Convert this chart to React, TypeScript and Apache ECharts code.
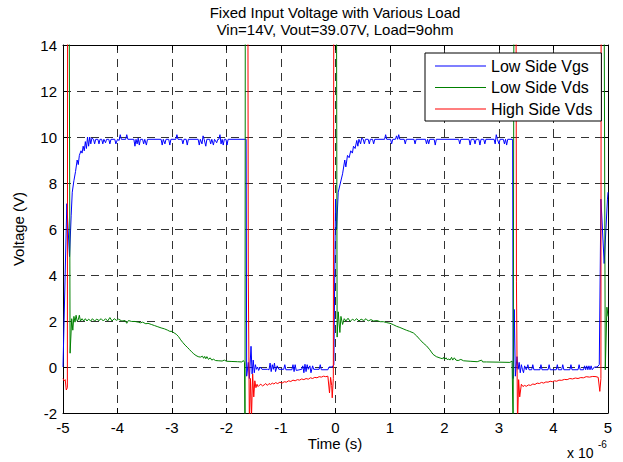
import React, { useEffect, useRef } from "react";
import * as echarts from "echarts";

const FONT = "'Liberation Sans', Arial, Helvetica, sans-serif";

const titleLines = ["Fixed Input Voltage with Various Load", "Vin=14V, Vout=39.07V, Load=9ohm"];
const seriesNames = ["Low Side Vgs", "Low Side Vds", "High Side Vds"];
const seriesColors = ["#0000ff", "#008000", "#ff0000"];
const xTicks = { min: -5, max: 5, interval: 1 };
const yTicks = { min: -2, max: 14, interval: 2 };

// time in units of 1e-6 s, voltage in V
const vgs: number[][] = [
  [-5.0, 0.0], [-4.93, 7.1], [-4.88, 4.8], [-4.85, 6.6], [-4.83, 7.6], [-4.8, 8.1], [-4.77, 8.5],
  [-4.74, 9.0], [-4.72, 8.8], [-4.7, 9.2], [-4.67, 9.4], [-4.65, 9.3], [-4.63, 9.6], [-4.61, 9.4],
  [-4.59, 9.8], [-4.57, 9.5], [-4.55, 10.0], [-4.53, 9.6], [-4.51, 10.0], [-4.49, 9.7], [-4.47, 9.95],
  [-4.44, 9.9], [-4.42, 9.7], [-4.4, 9.9], [-4.36, 9.9], [-4.34, 9.7], [-4.32, 9.9], [-4.29, 9.9],
  [-4.27, 9.7], [-4.25, 9.9], [-4.22, 9.75], [-4.2, 9.9], [-4.16, 9.9], [-4.14, 9.7], [-4.12, 9.9],
  [-4.05, 9.9], [-4.03, 9.7], [-4.0, 9.9], [-3.97, 9.85], [-3.95, 10.1], [-3.93, 9.9], [-3.85, 9.9],
  [-3.83, 10.1], [-3.81, 9.9], [-3.7, 9.9], [-3.68, 9.6], [-3.66, 9.9], [-3.64, 9.7], [-3.62, 9.95],
  [-3.6, 9.65], [-3.58, 9.9], [-3.54, 9.9], [-3.52, 9.7], [-3.5, 9.9], [-3.47, 9.65], [-3.45, 9.9],
  [-3.2, 9.9], [-3.18, 9.65], [-3.16, 9.9], [-3.13, 9.7], [-3.11, 9.9], [-3.06, 9.9], [-3.04, 9.65],
  [-3.02, 9.9], [-2.93, 9.9], [-2.91, 10.1], [-2.89, 9.9], [-2.82, 9.9], [-2.8, 9.7], [-2.78, 9.9],
  [-2.74, 9.9], [-2.72, 9.65], [-2.7, 9.9], [-2.52, 9.9], [-2.5, 9.65], [-2.48, 9.9], [-2.45, 9.7],
  [-2.43, 10.05], [-2.41, 9.9], [-2.38, 9.6], [-2.36, 9.9], [-2.31, 9.9], [-2.29, 9.7], [-2.27, 9.9],
  [-2.24, 9.65], [-2.22, 9.9], [-2.18, 9.75], [-2.16, 9.9], [-2.14, 9.9], [-2.12, 10.1], [-2.1, 9.7],
  [-2.08, 9.9], [-2.06, 9.65], [-2.04, 9.9], [-2.01, 9.9], [-1.99, 9.65], [-1.97, 9.9], [-1.64, 9.9],
  [-1.63, -0.4], [-1.6, 0.2], [-1.58, -0.5], [-1.55, 0.9], [-1.53, -0.3], [-1.51, 0.3], [-1.49, -0.25],
  [-1.47, 0.1], [-1.45, -0.1], [-1.43, 0.0], [-1.41, -0.15], [-1.38, 0.0], [-1.35, -0.1], [-1.25, -0.1],
  [-1.22, -0.12], [-1.2, 0.17], [-1.18, -0.2], [-1.16, 0.1], [-1.14, -0.1], [-1.12, 0.17], [-1.1, -0.2],
  [-1.07, 0.05], [-1.04, -0.1], [-0.95, -0.1], [-0.93, 0.1], [-0.91, -0.12], [-0.8, -0.12], [-0.78, 0.1],
  [-0.76, -0.2], [-0.74, 0.1], [-0.72, -0.15], [-0.62, -0.1], [-0.6, 0.05], [-0.58, -0.25], [-0.56, 0.12],
  [-0.54, -0.2], [-0.52, 0.1], [-0.5, -0.1], [-0.47, 0.05], [-0.45, -0.25], [-0.42, 0.05], [-0.4, -0.1],
  [-0.3, -0.1], [-0.28, 0.1], [-0.26, -0.12], [-0.14, -0.12], [-0.12, 0.0], [-0.06, 0.0], [-0.03, 0.1],
  [0.0, 7.3], [0.02, 6.0], [0.05, 7.6], [0.09, 8.0], [0.13, 8.4], [0.17, 9.0], [0.19, 8.7], [0.22, 9.2],
  [0.25, 9.1], [0.28, 9.4], [0.31, 9.3], [0.33, 9.6], [0.36, 9.5], [0.39, 9.85], [0.41, 9.6], [0.43, 9.9],
  [0.46, 9.7], [0.48, 9.95], [0.51, 9.9], [0.53, 9.7], [0.55, 9.9], [0.6, 9.9], [0.62, 9.7], [0.64, 9.9],
  [0.68, 9.9], [0.7, 9.7], [0.72, 9.9], [0.9, 9.9], [0.92, 10.1], [0.94, 9.9], [1.01, 9.9], [1.03, 9.7],
  [1.05, 9.9], [1.1, 9.9], [1.12, 10.05], [1.14, 9.9], [1.16, 10.1], [1.18, 9.9], [1.26, 9.9], [1.28, 9.7],
  [1.3, 9.9], [1.44, 9.9], [1.46, 9.7], [1.48, 9.9], [1.65, 9.9], [1.67, 9.7], [1.69, 9.9], [1.71, 9.7],
  [1.73, 9.9], [1.81, 9.9], [1.83, 9.65], [1.85, 9.9], [2.26, 9.9], [2.28, 9.7], [2.3, 9.9], [2.45, 9.9],
  [2.47, 9.65], [2.49, 9.9], [2.54, 9.9], [2.56, 9.7], [2.58, 9.9], [2.63, 9.9], [2.65, 9.65], [2.67, 9.9],
  [2.72, 9.9], [2.74, 9.7], [2.76, 9.9], [2.91, 9.9], [2.93, 9.7], [2.95, 10.1], [2.97, 9.9], [3.0, 9.7],
  [3.02, 9.9], [3.08, 9.9], [3.1, 9.7], [3.12, 9.9], [3.14, 9.65], [3.16, 9.9], [3.25, 9.9], [3.26, -0.5],
  [3.28, 2.5], [3.3, -0.4], [3.33, 0.45], [3.35, -0.1], [3.37, 0.2], [3.39, -0.25], [3.41, 0.1],
  [3.43, -0.1], [3.45, -0.25], [3.47, 0.05], [3.5, -0.12], [3.53, 0.1], [3.55, -0.12], [3.6, -0.12],
  [3.62, 0.1], [3.64, -0.12], [3.75, -0.12], [3.77, 0.1], [3.79, -0.12], [3.9, -0.12], [3.92, 0.1],
  [3.94, -0.12], [4.05, -0.12], [4.07, 0.1], [4.09, -0.12], [4.15, -0.12], [4.17, 0.1], [4.19, -0.12],
  [4.3, -0.12], [4.32, 0.1], [4.34, -0.12], [4.45, -0.12], [4.47, 0.1], [4.49, -0.12], [4.55, -0.12],
  [4.57, 0.05], [4.59, -0.12], [4.61, 0.05], [4.63, -0.12], [4.65, 0.05], [4.67, -0.12], [4.69, 0.05],
  [4.71, -0.12], [4.75, 0.0], [4.8, 0.0], [4.84, 0.1], [4.87, 7.3], [4.93, 4.5], [4.99, 7.3], [5.0, 7.6],
];

const vdsLow: number[][] = [
  [-5.0, 39], [-4.91, 39], [-4.87, 0.6], [-4.84, 2.1], [-4.82, 1.6], [-4.8, 2.2], [-4.78, 1.95],
  [-4.76, 2.25], [-4.74, 2.0], [-4.72, 2.05], [-4.7, 2.25], [-4.68, 2.0], [-4.65, 2.1], [-4.62, 2.0],
  [-4.59, 2.1], [-4.56, 2.0], [-4.53, 2.08], [-4.49, 2.0], [-4.46, 2.1], [-4.42, 2.0], [-4.38, 2.08],
  [-4.34, 2.02], [-4.3, 2.1], [-4.26, 2.0], [-4.22, 2.1], [-4.18, 2.0], [-4.14, 2.15], [-4.1, 2.0],
  [-4.06, 2.1], [-4.02, 2.03], [-3.98, 2.08], [-3.92, 2.0], [-3.86, 2.02], [-3.83, 1.9], [-3.8, 2.02],
  [-3.74, 1.98], [-3.68, 1.98], [-3.62, 1.95], [-3.58, 1.92], [-3.54, 1.95], [-3.48, 1.88], [-3.44, 1.9],
  [-3.38, 1.85], [-3.32, 1.8], [-3.26, 1.75], [-3.2, 1.7], [-3.14, 1.66], [-3.08, 1.6], [-3.04, 1.55],
  [-3.0, 1.55], [-2.96, 1.48], [-2.92, 1.42], [-2.88, 1.32], [-2.84, 1.18], [-2.8, 1.06], [-2.76, 0.95],
  [-2.72, 0.86], [-2.68, 0.76], [-2.64, 0.66], [-2.6, 0.57], [-2.56, 0.5], [-2.52, 0.45], [-2.48, 0.43],
  [-2.44, 0.47], [-2.42, 0.38], [-2.4, 0.46], [-2.38, 0.36], [-2.36, 0.45], [-2.33, 0.33], [-2.3, 0.4],
  [-2.27, 0.3], [-2.24, 0.34], [-2.2, 0.28], [-2.14, 0.27], [-2.08, 0.26], [-2.04, 0.3], [-2.0, 0.25],
  [-1.9, 0.24], [-1.8, 0.23], [-1.72, 0.22], [-1.69, 0.28], [-1.67, 0.2], [-1.66, -2.8], [-1.65, 39],
  [0.0, 39], [0.03, 1.3], [0.05, 2.4], [0.08, 1.5], [0.1, 2.2], [0.13, 1.85], [0.16, 2.1], [0.19, 2.0],
  [0.23, 2.12], [0.27, 1.98], [0.31, 2.08], [0.35, 2.02], [0.39, 2.1], [0.43, 2.0], [0.47, 2.08],
  [0.52, 2.02], [0.56, 2.1], [0.6, 2.0], [0.65, 2.06], [0.7, 2.0], [0.76, 2.02], [0.82, 1.97], [0.88, 1.97],
  [0.94, 1.93], [1.0, 1.9], [1.06, 1.84], [1.12, 1.77], [1.18, 1.72], [1.24, 1.66], [1.3, 1.6],
  [1.36, 1.55], [1.43, 1.48], [1.49, 1.35], [1.55, 1.19], [1.61, 1.04], [1.67, 0.92], [1.73, 0.75],
  [1.79, 0.55], [1.85, 0.45], [1.92, 0.39], [1.96, 0.36], [1.98, 0.42], [2.0, 0.32], [2.03, 0.4],
  [2.05, 0.32], [2.08, 0.35], [2.1, 0.3], [2.13, 0.42], [2.15, 0.3], [2.18, 0.4], [2.21, 0.3],
  [2.25, 0.28], [2.3, 0.33], [2.35, 0.27], [2.47, 0.25], [2.6, 0.23], [2.68, 0.3], [2.7, 0.22],
  [2.77, 0.22], [3.0, 0.21], [3.2, 0.2], [3.24, 0.26], [3.26, -2.8], [3.29, 39], [4.9, 39],
  [4.95, -0.12], [4.98, 2.6], [5.0, 2.2],
];

const vdsHigh: number[][] = [
  [-5.0, -0.5], [-4.98, -0.6], [-4.96, -0.55], [-4.94, -1.0], [-4.92, -0.9], [-4.91, 39], [-1.62, 39],
  [-1.6, 3.9], [-1.58, -2.6], [-1.56, -0.5], [-1.54, -2.1], [-1.52, -0.3], [-1.5, -1.3], [-1.48, -0.6],
  [-1.46, -0.9], [-1.44, -0.75], [-1.42, -0.85], [-1.4, -0.8], [-1.37, -0.75], [-1.34, -0.82],
  [-1.31, -0.78], [-1.28, -0.72], [-1.25, -0.8], [-1.22, -0.72], [-1.19, -0.76], [-1.16, -0.7],
  [-1.13, -0.74], [-1.1, -0.68], [-1.06, -0.72], [-1.02, -0.66], [-0.98, -0.7], [-0.94, -0.64],
  [-0.9, -0.66], [-0.86, -0.6], [-0.82, -0.63], [-0.78, -0.57], [-0.74, -0.6], [-0.7, -0.55],
  [-0.66, -0.57], [-0.62, -0.52], [-0.58, -0.55], [-0.54, -0.5], [-0.5, -0.53], [-0.46, -0.47],
  [-0.42, -0.5], [-0.38, -0.45], [-0.34, -0.47], [-0.3, -0.42], [-0.26, -0.44], [-0.22, -0.4],
  [-0.18, -0.42], [-0.14, -0.4], [-0.11, -1.13], [-0.09, -0.45], [-0.07, -0.8], [-0.06, -1.34],
  [-0.04, -0.5], [-0.02, 39], [3.3, 39], [3.32, 3.7], [3.34, -2.6], [3.36, -0.55], [3.38, -1.3],
  [3.41, -0.75], [3.44, -0.85], [3.47, -0.8], [3.5, -0.84], [3.54, -0.78], [3.58, -0.8], [3.62, -0.74],
  [3.66, -0.76], [3.7, -0.7], [3.74, -0.72], [3.78, -0.67], [3.82, -0.7], [3.86, -0.65], [3.9, -0.66],
  [3.94, -0.62], [3.98, -0.64], [4.02, -0.6], [4.06, -0.62], [4.1, -0.57], [4.15, -0.58], [4.2, -0.54],
  [4.25, -0.55], [4.3, -0.5], [4.35, -0.52], [4.4, -0.48], [4.45, -0.5], [4.5, -0.46], [4.55, -0.47],
  [4.6, -0.42], [4.66, -0.44], [4.72, -0.41], [4.78, -0.42], [4.82, -0.45], [4.85, -1.06], [4.87, -0.5],
  [4.88, 39], [5.0, 39],
];

const seriesData = [vgs, vdsLow, vdsHigh];

export default function App() {
  const ref = useRef<HTMLDivElement>(null);
  useEffect(() => {
    if (!ref.current) return;
    const chart = echarts.init(ref.current, null, { renderer: "svg" });
    const axisCommon = {
      type: "value" as const,
      axisLine: { show: true, onZero: false, lineStyle: { color: "#000", width: 1 } },
      axisTick: { show: true, inside: true, length: 5, lineStyle: { color: "#000" } },
    };
    chart.setOption({
      animation: false,
      backgroundColor: "#fff",
      textStyle: { fontFamily: FONT },
      grid: { left: 63, right: 15, top: 45, bottom: 49, containLabel: false },
      legend: {
        orient: "vertical",
        left: 425,
        top: 53,
        padding: [5, 9, 4, 10],
        icon: "rect",
        itemWidth: 51,
        itemHeight: 1,
        itemGap: 5.5,
        borderColor: "#000",
        borderWidth: 1,
        backgroundColor: "#fff",
        textStyle: { fontSize: 16, lineHeight: 16, color: "#000", fontFamily: FONT },
        data: seriesNames,
      },
      xAxis: [
        {
          ...axisCommon,
          ...xTicks,
          position: "bottom",
          axisLabel: { show: true, color: "#000", fontSize: 15, margin: 7, fontFamily: FONT },
          splitLine: { show: true, lineStyle: { color: "#333", type: [8, 6], width: 1 } },
        },
        {
          ...axisCommon,
          ...xTicks,
          position: "top",
          axisLabel: { show: false },
          splitLine: { show: false },
        },
      ],
      yAxis: [
        {
          ...axisCommon,
          ...yTicks,
          position: "left",
          axisLabel: { show: true, color: "#000", fontSize: 15, margin: 6, fontFamily: FONT },
          splitLine: { show: true, lineStyle: { color: "#333", type: [8, 6], width: 1 } },
        },
        {
          ...axisCommon,
          ...yTicks,
          position: "right",
          axisLabel: { show: false },
          splitLine: { show: false },
        },
      ],
      graphic: [
        {
          type: "text",
          x: 335,
          y: 12,
          style: { text: titleLines[0], fontSize: 15, fill: "#000", align: "center", verticalAlign: "middle", fontFamily: FONT },
        },
        {
          type: "text",
          x: 335,
          y: 29,
          style: { text: titleLines[1], fontSize: 15, fill: "#000", align: "center", verticalAlign: "middle", fontFamily: FONT },
        },
        {
          type: "text",
          x: 335,
          y: 443,
          style: { text: "Time (s)", fontSize: 15, fill: "#000", align: "center", verticalAlign: "middle", fontFamily: FONT },
        },
        {
          type: "text",
          x: 18,
          y: 229,
          rotation: Math.PI / 2,
          style: { text: "Voltage (V)", fontSize: 15, fill: "#000", align: "center", verticalAlign: "middle", fontFamily: FONT },
        },
        {
          type: "text",
          x: 567,
          y: 453,
          style: { text: "x 10", fontSize: 14, fill: "#000", align: "left", verticalAlign: "middle", fontFamily: FONT },
        },
        {
          type: "text",
          x: 598,
          y: 444,
          style: { text: "-6", fontSize: 10, fill: "#000", align: "left", verticalAlign: "middle", fontFamily: FONT },
        },
      ],
      series: seriesNames.map((name, i) => ({
        name,
        type: "line",
        data: seriesData[i],
        xAxisIndex: 0,
        yAxisIndex: 0,
        showSymbol: false,
        symbol: "none",
        clip: true,
        color: seriesColors[i],
        lineStyle: { color: seriesColors[i], width: 1 },
        emphasis: { disabled: true },
      })),
    });
    return () => chart.dispose();
  }, []);
  return <div ref={ref} style={{ width: 623, height: 462, position: "absolute", left: 0, top: 0 }} />;
}
